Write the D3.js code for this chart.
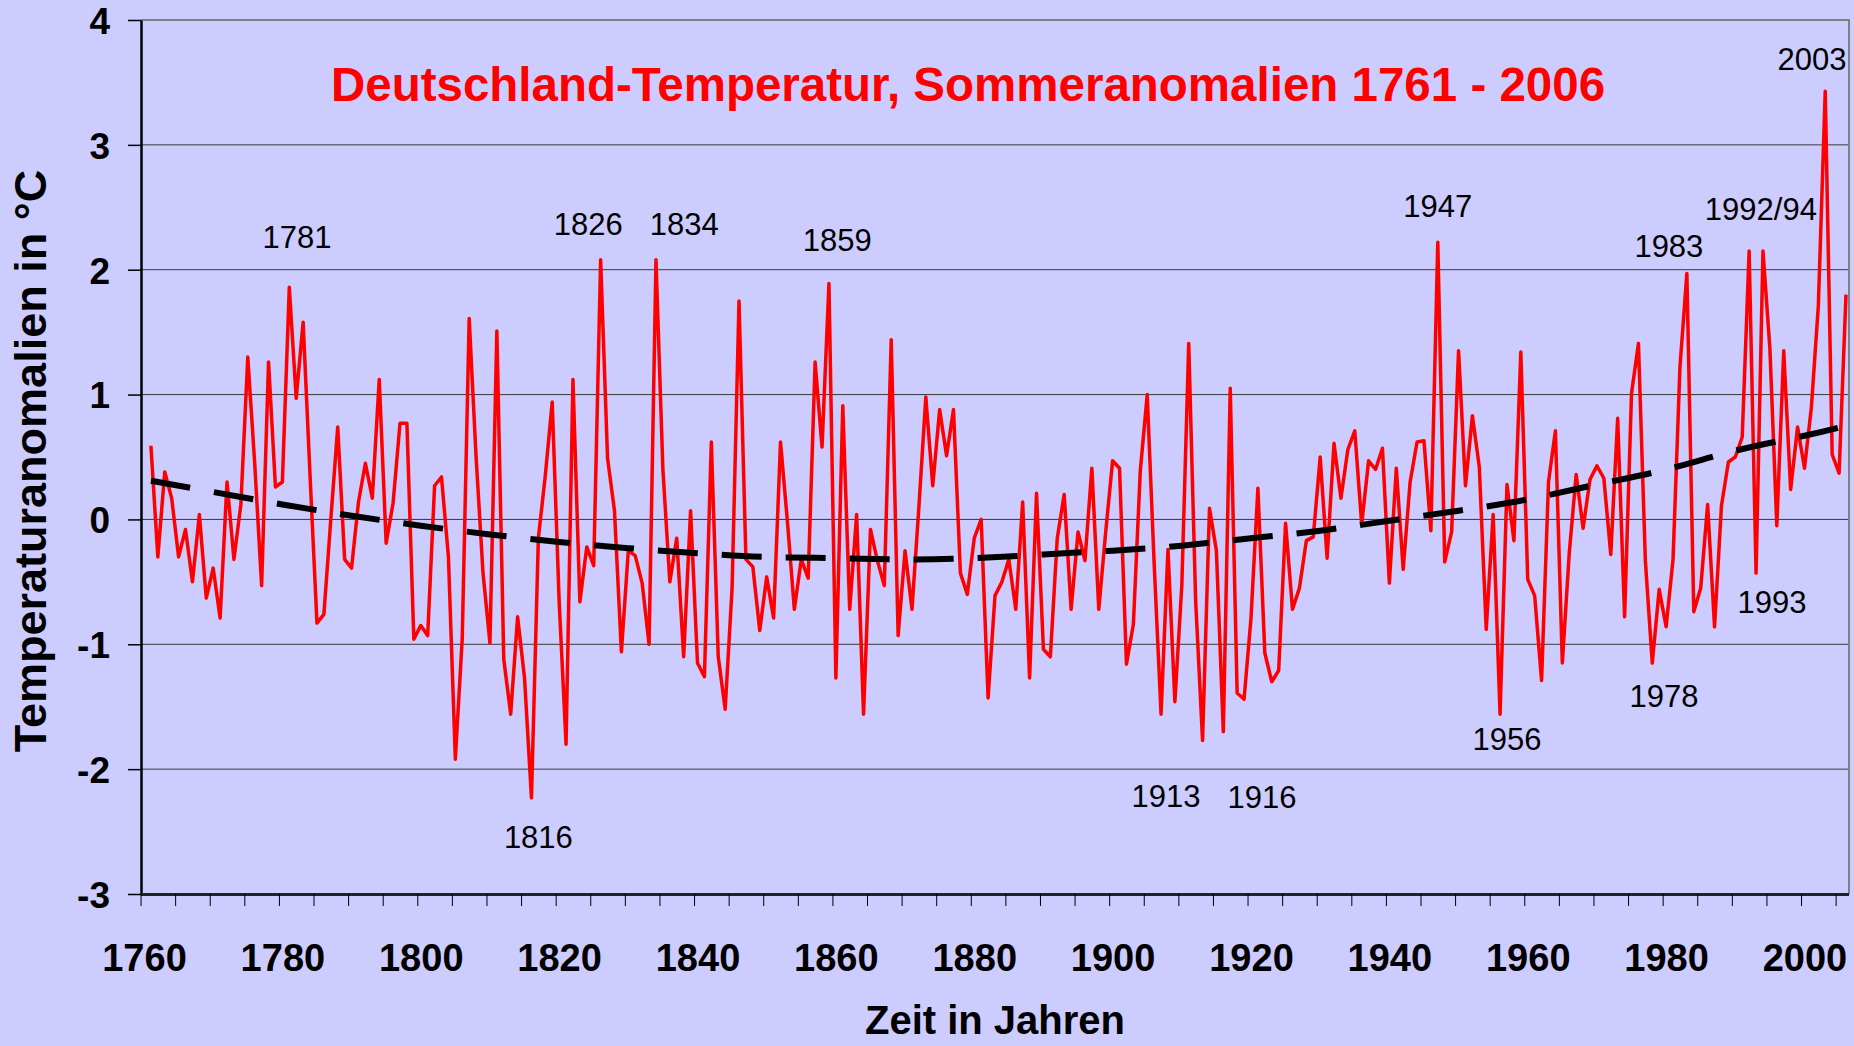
<!DOCTYPE html>
<html>
<head>
<meta charset="utf-8">
<script src="https://cdn.jsdelivr.net/npm/d3@7"></script>
<style>
body { margin: 0; background: #ccccff; }
svg { display: block; font-family: "Liberation Sans", Arial, sans-serif; }
</style>
</head>
<body>
<svg width="1854" height="1046"></svg>
<script>
// summer anomalies, one value per year from 1761 on (rows of ten years)
var firstYear = 1761;
var anomalies = [
   0.59, -0.30,  0.38,  0.17, -0.30, -0.08, -0.50,  0.04, -0.63, -0.39,
  -0.79,  0.30, -0.32,  0.12,  1.30,  0.45, -0.53,  1.26,  0.26,  0.30,
   1.86,  0.97,  1.58,  0.35, -0.83, -0.76,  0.00,  0.74, -0.32, -0.39,
   0.14,  0.45,  0.17,  1.12, -0.19,  0.13,  0.77,  0.77, -0.96, -0.85,
  -0.93,  0.27,  0.34, -0.30, -1.92, -0.95,  1.61,  0.50, -0.43, -0.99,
   1.51, -1.12, -1.56, -0.78, -1.27, -2.23, -0.15,  0.35,  0.94, -0.65,
  -1.80,  1.12, -0.66, -0.22, -0.37,  2.08,  0.49,  0.07, -1.06, -0.25,
  -0.29, -0.51, -1.00,  2.08,  0.40, -0.50, -0.15, -1.10,  0.07, -1.15,
  -1.26,  0.62, -1.10, -1.52, -0.55,  1.75, -0.32, -0.38, -0.89, -0.46,
  -0.79,  0.62, -0.02, -0.72, -0.32, -0.47,  1.26,  0.58,  1.89, -1.27,
   0.91, -0.72,  0.04, -1.56, -0.08, -0.33, -0.53,  1.44, -0.93, -0.25,
  -0.72,  0.10,  0.98,  0.27,  0.88,  0.51,  0.88, -0.43, -0.60, -0.15,
   0.00, -1.43, -0.61, -0.50, -0.32, -0.72,  0.14, -1.27,  0.21, -1.04,
  -1.10, -0.15,  0.20, -0.72, -0.10, -0.33,  0.41, -0.72, -0.10,  0.47,
   0.41, -1.16, -0.84,  0.39,  1.00, -0.35, -1.56, -0.24, -1.46, -0.53,
   1.41, -0.65, -1.77,  0.09, -0.25, -1.70,  1.05, -1.39, -1.44, -0.79,
   0.25, -1.07, -1.30, -1.21, -0.03, -0.72, -0.55, -0.17, -0.14,  0.50,
  -0.31,  0.61,  0.17,  0.56,  0.71, -0.04,  0.47,  0.40,  0.57, -0.51,
   0.41, -0.40,  0.30,  0.62,  0.63, -0.09,  2.22, -0.34, -0.10,  1.35,
   0.27,  0.83,  0.42, -0.88,  0.04, -1.56,  0.28, -0.17,  1.34, -0.48,
  -0.61, -1.29,  0.30,  0.71, -1.15, -0.27,  0.36, -0.07,  0.32,  0.43,
   0.33, -0.28,  0.81, -0.78,  1.01,  1.41, -0.33, -1.15, -0.56, -0.86,
  -0.32,  1.22,  1.97, -0.74, -0.55,  0.12, -0.86,  0.11,  0.46,  0.50,
   0.66,  2.15, -0.43,  2.15,  1.37, -0.05,  1.35,  0.24,  0.74,  0.41,
   0.90,  1.71,  3.43,  0.52,  0.37,  1.80
];

// trend curve
var trendYears  = [1761, 1770, 1780, 1790, 1800, 1810, 1820, 1830, 1840, 1850, 1860, 1870, 1880,
                   1890, 1900, 1910, 1920, 1930, 1940, 1950, 1960, 1970, 1980, 1990, 2000, 2006];
var trendValues = [0.31, 0.22, 0.12, 0.03, -0.05, -0.12, -0.18, -0.23, -0.27, -0.30, -0.31, -0.32, -0.31,
                   -0.28, -0.25, -0.21, -0.15, -0.09, -0.01, 0.07, 0.16, 0.28, 0.40, 0.55, 0.67, 0.75];

var yTicks = [-3, -2, -1, 0, 1, 2, 3, 4];
var xLabels = [1760, 1780, 1800, 1820, 1840, 1860, 1880, 1900, 1920, 1940, 1960, 1980, 2000];

// year labels next to the extremes
var noteTexts  = ["1781", "1826", "1834", "1859", "1816", "1913", "1916", "1947", "1956", "1983", "1978", "1992/94", "1993", "2003"];
var noteYears  = [1782.1, 1824.2, 1838.1, 1860.2, 1817.0, 1907.7, 1921.6, 1947.0, 1957.0, 1980.4, 1979.7, 1993.7, 1995.3, 2001.1];
var noteValues = [2.17, 2.28, 2.28, 2.15, -2.63, -2.30, -2.31, 2.42, -1.85, 2.10, -1.50, 2.40, -0.75, 3.60];

var svg = d3.select("svg"),
    width = +svg.attr("width"),
    height = +svg.attr("height");

var left = 141, right = 1849;

var x = d3.scaleLinear().domain([1760, 2006]).range([144, 1846]);
var y = d3.scaleLinear().domain([-3, 4]).range([894, 20]);

svg.append("rect").attr("width", width).attr("height", height).attr("fill", "#ccccff");

// grid
svg.append("g").selectAll("line")
    .data(yTicks.filter(function(d) { return d > -3 && d < 4; }))
    .enter().append("line")
    .attr("x1", left).attr("x2", right)
    .attr("y1", function(d) { return y(d); })
    .attr("y2", function(d) { return y(d); })
    .attr("stroke", "#3a3a3a").attr("stroke-width", 1);

// frame top and right
svg.append("path")
    .attr("d", "M" + left + "," + y(4) + "H" + right + "V" + y(-3))
    .attr("fill", "none").attr("stroke", "#808080").attr("stroke-width", 2);

// y axis
var yAxis = svg.append("g")
    .attr("transform", "translate(" + left + ",0)")
    .call(d3.axisLeft(y).tickValues(yTicks).tickSize(13).tickPadding(18).tickSizeOuter(0)
        .tickFormat(function(d) { return String(d); }));
yAxis.select(".domain").attr("stroke", "#000").attr("stroke-width", 2.5);
yAxis.selectAll(".tick line").attr("stroke", "#000").attr("stroke-width", 1.5);
yAxis.selectAll(".tick text")
    .attr("font-size", 37).attr("font-weight", "bold").attr("fill", "#000")
    .attr("font-family", "'Liberation Sans', Arial, sans-serif")
    .attr("dy", "0.36em");

// x axis: marks every five years on category borders
var markYears = d3.range(firstYear - 1.5, 2006, 5);
var xMarks = svg.append("g")
    .attr("transform", "translate(0," + y(-3) + ")")
    .call(d3.axisBottom(x).tickValues(markYears).tickSize(12).tickFormat("").tickSizeOuter(0));
xMarks.select(".domain").attr("d", "M" + left + ",0.5H" + right).attr("stroke", "#222").attr("stroke-width", 3);
xMarks.selectAll(".tick line").attr("stroke", "#000").attr("stroke-width", 1);

var xAxis = svg.append("g")
    .attr("transform", "translate(0," + y(-3) + ")")
    .call(d3.axisBottom(x).tickValues(xLabels).tickSize(0).tickPadding(50).tickFormat(d3.format("d")));
xAxis.select(".domain").remove();
xAxis.selectAll(".tick text")
    .attr("font-size", 38).attr("font-weight", "bold").attr("fill", "#000")
    .attr("font-family", "'Liberation Sans', Arial, sans-serif");

// series
var series = anomalies.map(function(v, i) { return {year: firstYear + i, value: v}; });
var line = d3.line()
    .x(function(d) { return x(d.year); })
    .y(function(d) { return y(d.value); });

svg.append("path")
    .datum(series)
    .attr("d", line)
    .attr("fill", "none")
    .attr("stroke", "#ff0000")
    .attr("stroke-width", 3.5)
    .attr("stroke-linejoin", "round");

var trend = trendYears.map(function(yr, i) { return {year: yr, value: trendValues[i]}; });
svg.append("path")
    .datum(trend)
    .attr("d", line.curve(d3.curveNatural))
    .attr("fill", "none")
    .attr("stroke", "#000")
    .attr("stroke-width", 6)
    .attr("stroke-dasharray", "40,24");

// notes
svg.append("g").selectAll("text")
    .data(noteTexts)
    .enter().append("text")
    .attr("x", function(d, i) { return x(noteYears[i]); })
    .attr("y", function(d, i) { return y(noteValues[i]); })
    .attr("text-anchor", "middle")
    .attr("font-size", 31)
    .attr("fill", "#000")
    .text(function(d) { return d; });

// titles
svg.append("text")
    .attr("x", 968).attr("y", 101)
    .attr("text-anchor", "middle")
    .attr("font-size", 47.5).attr("font-weight", "bold")
    .attr("fill", "#ff0000")
    .text("Deutschland-Temperatur, Sommeranomalien 1761 - 2006");

svg.append("text")
    .attr("x", 995).attr("y", 1034)
    .attr("text-anchor", "middle")
    .attr("font-size", 40).attr("font-weight", "bold")
    .text("Zeit in Jahren");

svg.append("text")
    .attr("transform", "translate(46,461) rotate(-90)")
    .attr("text-anchor", "middle")
    .attr("font-size", 45).attr("font-weight", "bold")
    .text("Temperaturanomalien in °C");
</script>
</body>
</html>
